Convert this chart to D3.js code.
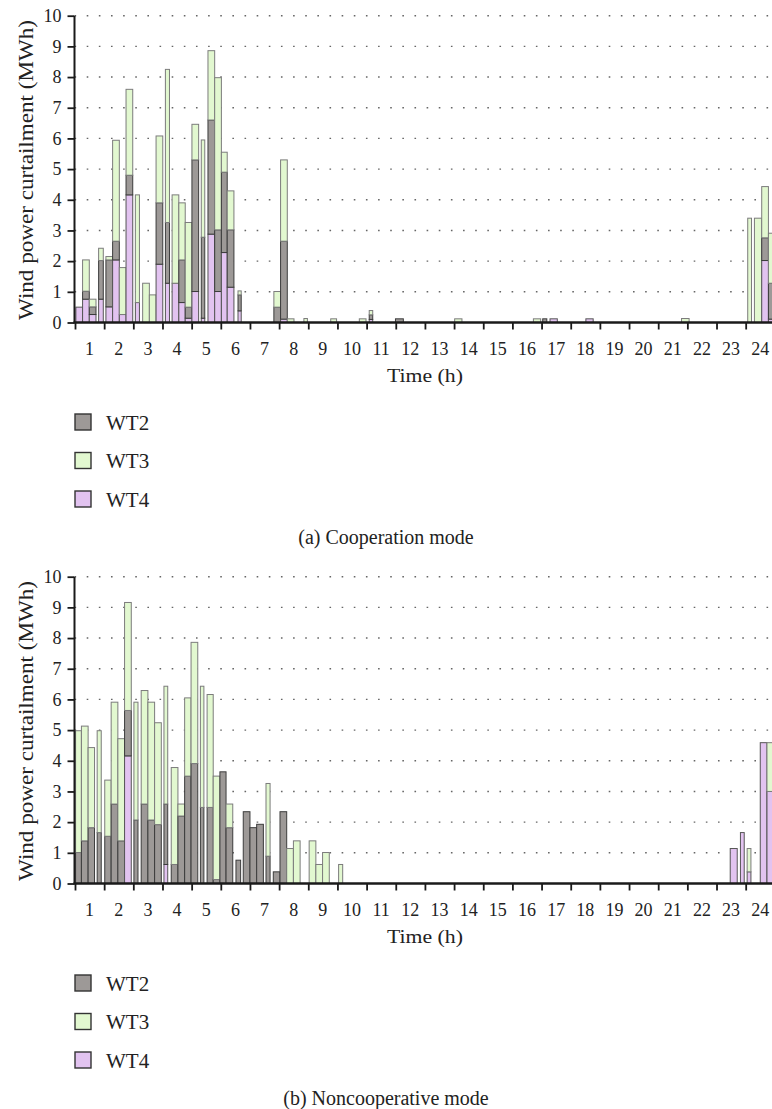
<!DOCTYPE html>
<html><head><meta charset="utf-8">
<script src="https://cdn.jsdelivr.net/npm/d3@7"></script>
<style>body{margin:0;background:#fff}svg{display:block}</style>
</head><body><svg id="c" width="772" height="1109"></svg>
<script>
// ---------- data ----------
const hourTicks = d3.range(0, 25);
const hourLabels = d3.range(1, 25);
const yTicks = d3.range(0, 11);
const legendKeys = ["WT2", "WT3", "WT4"];
const stackKeys = ["WT4", "WT2", "WT3"];

// (a) Cooperation mode : bar time intervals (h) and curtailment (MWh)
const coopStart = [0.03,0.26,0.49,0.81,1.06,1.29,1.52,1.75,2.07,2.32,2.55,2.78,3.10,3.33,3.56,3.78,4.01,4.33,4.56,4.79,5.02,5.22,5.59,6.82,7.05,7.28,7.85,8.77,9.75,10.09,10.99,13.02,15.72,16.04,16.29,17.52,20.80,23.07,23.30,23.55,23.78];
const coopEnd   = [0.26,0.49,0.72,0.97,1.29,1.52,1.75,1.98,2.21,2.55,2.78,3.01,3.24,3.56,3.78,4.01,4.24,4.45,4.79,5.02,5.22,5.45,5.70,7.05,7.28,7.51,7.97,8.97,9.98,10.21,11.26,13.27,15.97,16.18,16.54,17.77,21.06,23.20,23.55,23.78,24.00];
const coopWT2 = [0,0.26,0.25,1.26,1.53,0.61,0,0.64,0,0,0,2.00,1.98,0,1.39,0.36,4.29,2.64,3.72,2.01,2.62,1.87,0.52,0.50,2.54,0,0,0,0,0.15,0.12,0,0,0.12,0,0,0,0,0,0.74,1.17];
const coopWT3 = [0,1.02,0.25,0.40,0.11,3.29,1.53,2.80,3.51,1.28,0.90,2.18,4.99,2.88,1.86,2.76,1.16,3.17,2.26,4.96,0.65,1.27,0.13,0.51,2.65,0.12,0.13,0.12,0.12,0.14,0,0.12,0.12,0,0,0,0.13,3.40,3.40,1.67,1.63];
const coopWT4 = [0.50,0.76,0.26,0.76,0.51,2.04,0.26,4.16,0.65,0,0,1.90,1.28,1.28,0.65,0.14,1.01,0.14,2.88,1.01,2.28,1.15,0.38,0,0.11,0,0,0,0,0.10,0,0,0,0,0.12,0.12,0,0,0,2.02,0.11];

// (b) Noncooperative mode
const noncoopStart = [0.02,0.22,0.45,0.76,1.02,1.24,1.47,1.70,2.02,2.27,2.50,2.73,3.05,3.30,3.53,3.76,3.98,4.30,4.53,4.74,4.97,5.18,5.52,5.77,6.00,6.23,6.55,6.80,7.03,7.26,7.49,8.03,8.26,8.49,9.04,22.47,22.82,23.05,23.50,23.73];
const noncoopEnd   = [0.22,0.45,0.67,0.90,1.24,1.47,1.70,1.93,2.16,2.50,2.73,2.96,3.18,3.53,3.76,3.98,4.21,4.42,4.74,4.97,5.18,5.41,5.68,6.00,6.23,6.46,6.69,7.03,7.26,7.49,7.72,8.26,8.49,8.72,9.18,22.71,22.95,23.18,23.73,24.00];
const noncoopWT2 = [1.01,1.39,1.82,1.66,1.54,2.59,1.39,1.48,2.07,2.59,2.07,1.92,1.97,0.62,2.20,3.50,3.91,2.48,2.48,0.13,3.64,1.82,0.76,2.34,1.82,1.93,0.89,0.38,2.34,0,0,0,0,0,0,0,0,0,0,0];
const noncoopWT3 = [3.97,3.74,2.61,3.32,1.83,3.32,3.33,3.52,3.84,3.70,3.84,3.32,3.84,3.16,0.39,2.55,3.95,3.95,3.68,3.37,0,0.77,0,0,0,0,2.37,0,0,1.14,1.39,1.39,0.62,1.01,0.62,0,0,0.76,0,1.59];
const noncoopWT4 = [0,0,0,0,0,0,0,4.16,0,0,0,0,0.62,0,0,0,0,0,0,0,0,0,0,0,0,0,0,0,0,0,0,0,0,0,0,1.14,1.66,0.38,4.59,3.00];

// ---------- drawing ----------
const svg = d3.select("#c");
const colors = {WT2: "#9d9997", WT3: "#e2f8d0", WT4: "#e2c3f0"};
const strokes = {WT2: "#3c3c3c", WT3: "#7c7c7c", WT4: "#555555"};
const font = "'Liberation Serif','Times New Roman',serif";

const x = d3.scaleLinear().domain([0, 24]).range([75, 774.84]);

function buildRows(s, e, a, b, c) {
  return s.map((t, i) => ({t0: t, t1: e[i], WT2: a[i], WT3: b[i], WT4: c[i]}));
}

const panels = [
  {dy: 0, caption: "(a) Cooperation mode", rows: buildRows(coopStart, coopEnd, coopWT2, coopWT3, coopWT4)},
  {dy: 561, caption: "(b) Noncooperative mode", rows: buildRows(noncoopStart, noncoopEnd, noncoopWT2, noncoopWT3, noncoopWT4)}
];

panels.forEach(p => {
  const g = svg.append("g").attr("transform", `translate(0,${p.dy})`);
  const y = d3.scaleLinear().domain([0, 10]).range([322.5, 15.7]);

  // dotted grid
  g.append("g").selectAll("line").data(yTicks.filter(v => v > 0)).join("line")
    .attr("x1", 75).attr("x2", 772)
    .attr("y1", d => y(d)).attr("y2", d => y(d))
    .attr("stroke", "#666").attr("stroke-width", 1.4)
    .attr("stroke-dasharray", "1.6 10.54").attr("stroke-dashoffset", 0.44);

  // stacked bars
  const stacked = d3.stack().keys(stackKeys)(p.rows);
  const bars = g.append("g");
  p.rows.forEach((r, i) => {
    stacked.forEach(layer => {
      const seg = layer[i];
      if (seg[1] - seg[0] <= 0) return;
      bars.append("rect")
        .attr("x", x(r.t0)).attr("width", x(r.t1) - x(r.t0))
        .attr("y", y(seg[1])).attr("height", y(seg[0]) - y(seg[1]))
        .attr("fill", colors[layer.key])
        .attr("stroke", strokes[layer.key]).attr("stroke-width", 1);
    });
  });

  // y axis
  const ya = g.append("g").attr("transform", "translate(74.5,0)")
    .call(d3.axisLeft(y).tickValues(yTicks).tickSize(7).tickPadding(6).tickFormat(d3.format("d")));
  ya.select(".domain").attr("stroke", "#1a1a1a").attr("stroke-width", 2).attr("d", `M0,${y(0)}V${y(10)}`);
  ya.selectAll(".tick line").attr("stroke", "#1a1a1a").attr("stroke-width", 1.8);
  ya.selectAll(".tick text").attr("font-family", font).attr("font-size", 18).attr("fill", "#222");

  // x axis
  const xa = g.append("g").attr("transform", `translate(0,${y(0)})`)
    .call(d3.axisBottom(x).tickValues(hourTicks).tickSize(7).tickFormat(""));
  xa.select(".domain").attr("stroke", "#1a1a1a").attr("stroke-width", 2.5).attr("d", "M73.5,0H772");
  xa.selectAll(".tick line").attr("stroke", "#1a1a1a").attr("stroke-width", 1.8);
  g.append("g").selectAll("text").data(hourLabels).join("text")
    .attr("x", d => x(d - 0.5)).attr("y", 354.5)
    .attr("text-anchor", "middle").attr("font-family", font).attr("font-size", 18).attr("fill", "#222")
    .text(d => d);

  // axis titles
  g.append("text").attr("x", 425).attr("y", 382)
    .attr("text-anchor", "middle").attr("font-family", font).attr("font-size", 19).attr("fill", "#222")
    .attr("textLength", 76).attr("lengthAdjust", "spacingAndGlyphs")
    .text("Time (h)");
  g.append("text").attr("transform", "translate(33,170) rotate(-90)")
    .attr("text-anchor", "middle").attr("font-family", font).attr("font-size", 20).attr("fill", "#222")
    .attr("textLength", 300).attr("lengthAdjust", "spacingAndGlyphs")
    .text("Wind power curtailment (MWh)");

  // legend
  const lg = g.append("g").selectAll("g").data(legendKeys).join("g")
    .attr("transform", (d, i) => `translate(75,${414 + i * 38.5})`);
  lg.append("rect").attr("width", 16).attr("height", 16)
    .attr("fill", d => colors[d]).attr("stroke", "#333").attr("stroke-width", 1.4);
  lg.append("text").attr("x", 31).attr("y", 15.5)
    .attr("font-family", font).attr("font-size", 21).attr("fill", "#222").text(d => d);

  // caption
  g.append("text").attr("x", 386).attr("y", 543.5).attr("text-anchor", "middle")
    .attr("font-family", font).attr("font-size", 20).attr("fill", "#222").text(p.caption);
});
</script>
</body></html>
